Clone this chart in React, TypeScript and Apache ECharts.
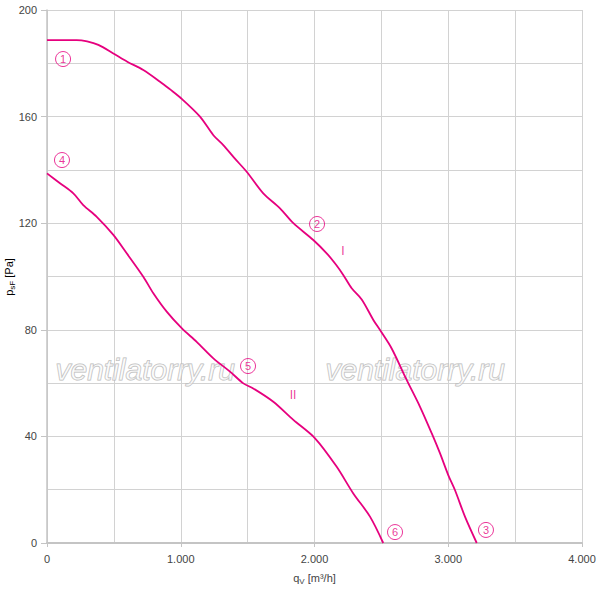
import { useEffect, useRef } from "react";
import * as echarts from "echarts";

const MAGENTA = "#e6007e";

// curve I : [q m3/h, p Pa]
const curveI: number[][] = [
  [0, 188.7], [222, 188.7], [300, 188.2], [384, 186.9], [496, 183.7], [600, 180.6],
  [720, 177.5], [845, 173.1], [920, 170.2], [1002, 166.9], [1144, 160], [1244, 153],
  [1318, 149.3], [1400, 144.5], [1493, 139.3], [1617, 131.2], [1742, 125.6],
  [1842, 120], [1991, 113.7], [2091, 108.7], [2160, 104.5], [2215, 100.6], [2278, 95.6],
  [2353, 91.4], [2440, 83.7], [2490, 79.9], [2577, 73], [2689, 61.2], [2789, 51.1],
  [2876, 41.2], [2938, 33.7], [3000, 25.5], [3050, 19.9], [3125, 9.9], [3213, 0],
];

// curve II
const curveII: number[][] = [
  [0, 138.7], [97, 135], [197, 131.2], [271, 126.8], [372, 122.4], [496, 115.6],
  [596, 108.7], [720, 99.9], [795, 93.7], [895, 86.8], [1007, 80.6], [1119, 75.5],
  [1244, 69.3], [1368, 64.3], [1468, 59.9], [1542, 58], [1692, 53], [1842, 46.2],
  [2004, 39.3], [2166, 28.6], [2290, 18.6], [2415, 9.9], [2514, 0],
];

const pointLabels = ["1", "2", "3", "4", "5", "6"];
const pointQ = [120, 2019, 3282, 112, 1503, 2602];
const pointP = [181.6, 119.7, 4.9, 143.7, 66.4, 4.1];

const curveNames = ["I", "II"];
const curveNameQ = [2213, 1839];
const curveNameP = [109.6, 55.5];

const watermark = "ventilatorry.ru";

const fmtThousands = (v: number) =>
  v === 0 ? "0" : String(v).replace(/\B(?=(\d{3})+(?!\d))/g, ".");

const App = () => {
  const chartRef = useRef<HTMLDivElement>(null);

  useEffect(() => {
    const chart = echarts.init(chartRef.current!, undefined, { renderer: "svg" });
    const font = "'Liberation Sans', Arial, sans-serif";
    const splitStyle = { color: "#d2d2d2", width: 1 };
    const nameRich = {
      a: { fontSize: 11, color: "#444", fontFamily: font },
      s: { fontSize: 8, color: "#444", fontFamily: font, verticalAlign: "bottom", padding: [6, 0, 0, 0] },
    };

    chart.setOption({
      animation: false,
      textStyle: { fontFamily: font },
      grid: {
        left: 47,
        right: 18,
        top: 10,
        bottom: 47,
        containLabel: false,
        outerBoundsMode: "none",
      },
      graphic: [
        ...[55, 325].map((x) => ({
          type: "text",
          left: x,
          top: 354,
          z: 1,
          style: {
            text: watermark,
            font: `italic 30px ${font}`,
            fill: "rgba(255,255,255,0.5)",
            stroke: "#b8b8b8",
            lineWidth: 1,
          },
        })),
        {
          type: "text",
          x: 9,
          y: 277,
          rotation: Math.PI / 2,
          style: {
            text: "{a|p}{s|sF}{a| [Pa]}",
            rich: nameRich,
            align: "center",
            verticalAlign: "middle",
          },
        },
      ],
      xAxis: {
        type: "value",
        min: 0,
        max: 4000,
        interval: 1000,
        name: "{a|q}{s|V}{a| [m³/h]}",
        nameLocation: "middle",
        nameGap: 28,
        nameTextStyle: { rich: nameRich },
        axisLine: { show: true, lineStyle: { color: "#c4c4c4", width: 2 } },
        axisTick: { show: true, length: 4, lineStyle: { color: "#c4c4c4" } },
        axisLabel: { color: "#444", fontSize: 11, margin: 10, formatter: fmtThousands },
        splitLine: { show: true, lineStyle: splitStyle },
        minorTick: { show: false, splitNumber: 2 },
        minorSplitLine: { show: true, lineStyle: splitStyle },
      },
      yAxis: {
        type: "value",
        min: 0,
        max: 200,
        interval: 40,
        axisLine: { show: true, lineStyle: { color: "#c4c4c4", width: 1.5 } },
        axisTick: { show: true, length: 6, lineStyle: { color: "#c4c4c4" } },
        axisLabel: { color: "#444", fontSize: 11, margin: 10 },
        splitLine: { show: true, lineStyle: splitStyle },
        minorTick: { show: false, splitNumber: 2 },
        minorSplitLine: { show: true, lineStyle: splitStyle },
      },
      series: [
        {
          type: "line",
          data: curveI,
          smooth: 0.3,
          showSymbol: false,
          z: 5,
          lineStyle: { color: MAGENTA, width: 1.8 },
        },
        {
          type: "line",
          data: curveII,
          smooth: 0.3,
          showSymbol: false,
          z: 5,
          lineStyle: { color: MAGENTA, width: 1.8 },
        },
        {
          type: "scatter",
          data: pointLabels.map((t, i) => ({ value: [pointQ[i], pointP[i]], name: t })),
          symbol: "circle",
          symbolSize: 15,
          z: 6,
          itemStyle: { color: "rgba(255,255,255,0)", borderColor: MAGENTA, borderWidth: 1 },
          label: {
            show: true,
            position: "inside",
            formatter: (p: any) => p.name,
            color: MAGENTA,
            fontSize: 11,
            fontFamily: font,
          },
          silent: true,
        },
        {
          type: "scatter",
          data: curveNames.map((t, i) => ({ value: [curveNameQ[i], curveNameP[i]], name: t })),
          symbolSize: 1,
          z: 6,
          itemStyle: { color: "rgba(255,255,255,0)" },
          label: {
            show: true,
            position: "inside",
            formatter: (p: any) => p.name,
            color: MAGENTA,
            fontSize: 12,
            fontFamily: font,
          },
          silent: true,
        },
      ],
    });

    return () => {
      chart.dispose();
    };
  }, []);

  return (
    <div
      ref={chartRef}
      style={{ position: "fixed", left: 0, top: 0, width: 600, height: 590, background: "#fff" }}
    />
  );
};

export default App;
